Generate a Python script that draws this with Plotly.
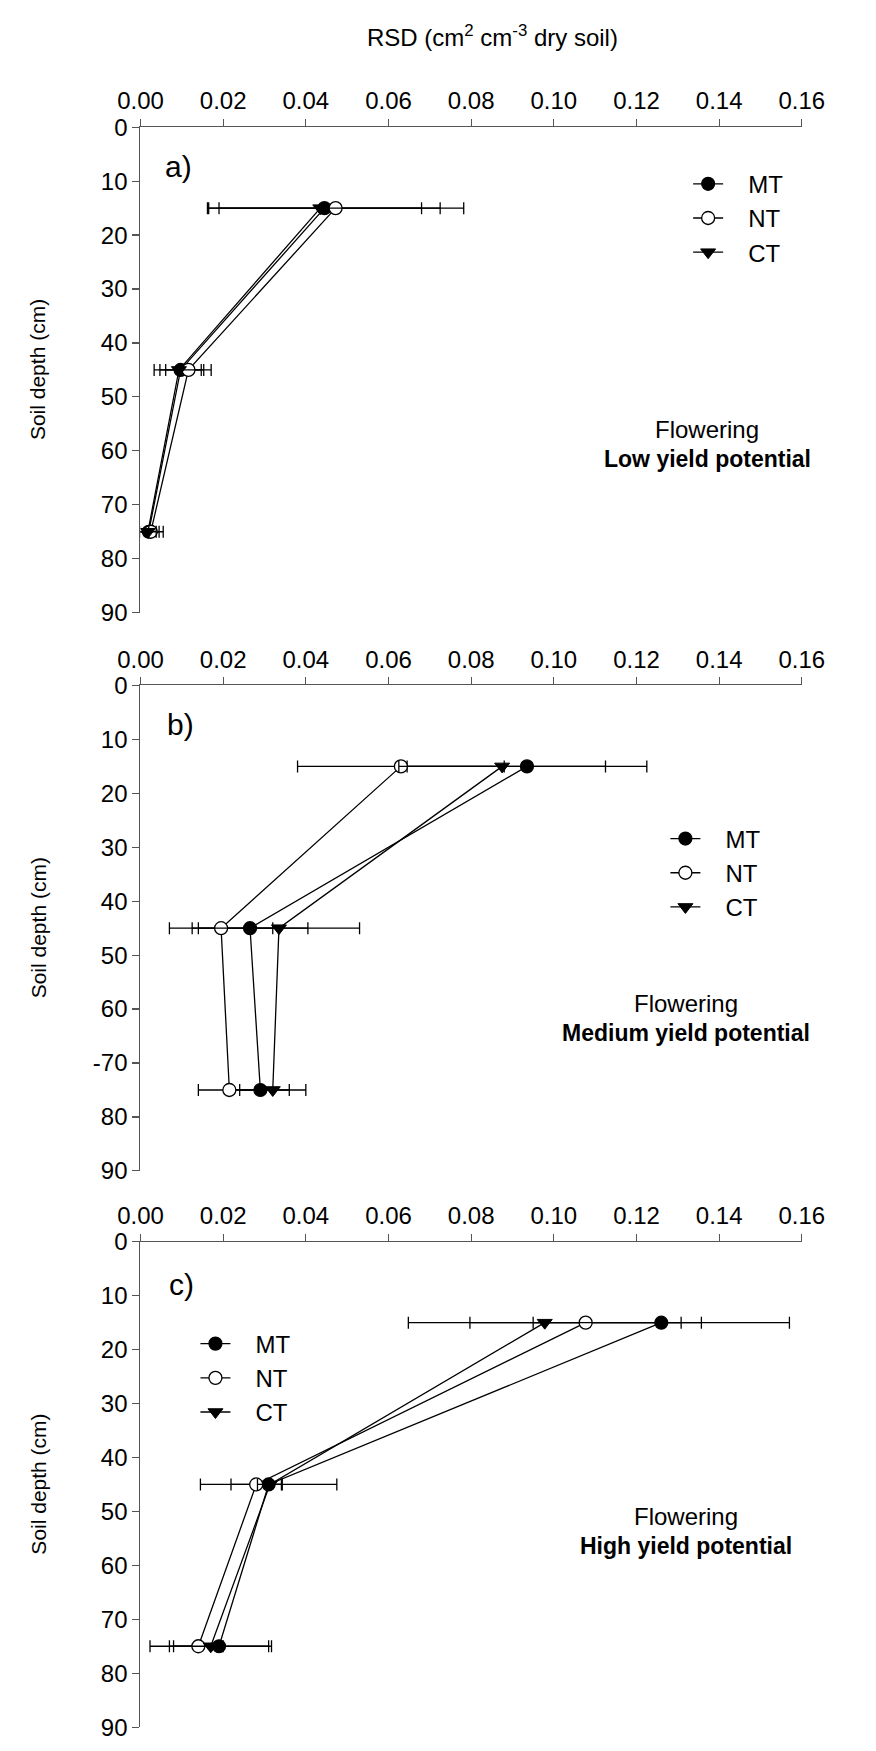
import plotly.graph_objects as go

# ---------------- data ----------------
depth = [15, 45, 75]
series_names = ["MT", "NT", "CT"]

# Panel a) Low yield potential
a_MT = [0.0445, 0.0097, 0.0020]
a_MT_err = [0.0280, 0.0050, 0.0025]
a_NT = [0.0472, 0.0116, 0.0025]
a_NT_err = [0.0310, 0.0055, 0.0030]
a_CT = [0.0435, 0.0093, 0.0018]
a_CT_err = [0.0245, 0.0060, 0.0020]

# Panel b) Medium yield potential
b_MT = [0.0935, 0.0265, 0.0290]
b_MT_err = [0.0290, 0.0140, 0.0070]
b_NT = [0.0630, 0.0195, 0.0215]
b_NT_err = [0.0250, 0.0125, 0.0075]
b_CT = [0.0875, 0.0335, 0.0320]
b_CT_err = [0.0250, 0.0195, 0.0080]

# Panel c) High yield potential
c_MT = [0.1260, 0.0310, 0.0190]
c_MT_err = [0.0310, 0.0165, 0.0120]
c_NT = [0.1077, 0.0280, 0.0140]
c_NT_err = [0.0280, 0.0061, 0.0060]
c_CT = [0.0978, 0.0313, 0.0170]
c_CT_err = [0.0330, 0.0030, 0.0147]

x_ticks = [0.00, 0.02, 0.04, 0.06, 0.08, 0.10, 0.12, 0.14, 0.16]
y_ticks = [0, 10, 20, 30, 40, 50, 60, 70, 80, 90]
y_ticktext_a = ["0", "10", "20", "30", "40", "50", "60", "70", "80", "90"]
y_ticktext_b = ["0", "10", "20", "30", "40", "50", "60", "-70", "80", "90"]
y_ticktext_c = ["0", "10", "20", "30", "40", "50", "60", "70", "80", "90"]

panel_letters = ["a)", "b)", "c)"]
panel_line1 = ["Flowering", "Flowering", "Flowering"]
panel_line2 = ["Low yield potential", "Medium yield potential", "High yield potential"]
x_title = "RSD (cm<sup>2</sup> cm<sup>-3</sup> dry soil)"
y_title = "Soil depth (cm)"

# ---------------- layout constants ----------------
W, H = 876, 1751
FONT = "Liberation Sans, Arial, Helvetica, sans-serif"
AX_COLOR = "#555555"

def px_x(p):
    return p / W

def px_y(p):
    return 1 - p / H

x_dom = [px_x(124), px_x(822)]
panel_px = [(115, 608), (682, 1175), (1247, 1740)]

styles = {
    "MT": dict(symbol="circle", color="black", line=dict(color="black", width=1.2), size=13),
    "NT": dict(symbol="circle", color="white", line=dict(color="black", width=1.3), size=13),
    "CT": dict(symbol="triangle-down", color="black", line=dict(color="black", width=1), size=13),
}

panels = [
    ([a_MT, a_NT, a_CT], [a_MT_err, a_NT_err, a_CT_err], y_ticktext_a),
    ([b_MT, b_NT, b_CT], [b_MT_err, b_NT_err, b_CT_err], y_ticktext_b),
    ([c_MT, c_NT, c_CT], [c_MT_err, c_NT_err, c_CT_err], y_ticktext_c),
]

legend_pos = [(702, 150), (678, 815), (182, 1328)]  # px of legend top-left
text_cx = [722, 700, 700]
text_depth = [(56.0, 61.5), (59.0, 64.5), (51.0, 56.5)]
letter_pos = [(148, 155), (150, 722), (152, 1290)]

fig = go.Figure()
layout = dict(
    width=W, height=H, autosize=False,
    margin=dict(l=0, r=0, t=0, b=0),
    paper_bgcolor="white", plot_bgcolor="white",
    font=dict(family=FONT, size=24, color="black"),
    showlegend=True,
)
annotations = []

for i, (vals, errs, yticktext) in enumerate(panels):
    n = "" if i == 0 else str(i + 1)
    xa, ya = "x" + n, "y" + n
    leg = "legend" + n
    for name, v, e in zip(series_names, vals, errs):
        st = styles[name]
        fig.add_trace(go.Scatter(
            x=v, y=depth, mode="lines+markers", name="&nbsp;&nbsp;&nbsp;" + name,
            xaxis=xa, yaxis=ya, legend=leg,
            line=dict(color="black", width=1.3),
            marker=dict(symbol=st["symbol"], color=st["color"], size=st["size"], line=st["line"]),
            error_x=dict(type="data", array=e, visible=True, color="black", thickness=1.3, width=6),
        ))
    top, bot = panel_px[i]
    layout["xaxis" + n] = dict(
        domain=x_dom, anchor=ya, side="top", range=[0, 0.16],
        tickvals=x_ticks, tickformat=".2f", ticks="outside", ticklen=7,
        tickcolor=AX_COLOR, tickwidth=1.2, showline=True, linecolor=AX_COLOR, linewidth=1.2,
        showgrid=False, zeroline=False, tickfont=dict(size=24, family=FONT), fixedrange=True,
    )
    layout["yaxis" + n] = dict(
        domain=[px_y(bot), px_y(top)], anchor=xa, range=[90, 0],
        tickvals=y_ticks, ticktext=yticktext, ticks="outside", ticklen=7,
        tickcolor=AX_COLOR, tickwidth=1.2, showline=True, linecolor=AX_COLOR, linewidth=1.2,
        showgrid=False, zeroline=False, tickfont=dict(size=24, family=FONT), fixedrange=True,
    )
    lx, ly = legend_pos[i]
    layout[leg] = dict(
        x=px_x(lx), y=px_y(ly), xanchor="left", yanchor="top",
        bgcolor="rgba(0,0,0,0)", font=dict(size=24, family=FONT),
        tracegroupgap=0, itemclick=False, itemdoubleclick=False,
    )
    # panel letter
    lpx, lpy = letter_pos[i]
    annotations.append(dict(text=panel_letters[i], x=px_x(lpx), y=px_y(lpy), xref="paper", yref="paper",
                            xanchor="left", yanchor="middle", showarrow=False,
                            font=dict(size=30, family=FONT)))
    d1, d2 = text_depth[i]
    annotations.append(dict(text=panel_line1[i], x=px_x(text_cx[i]), y=d1, xref="paper", yref=ya,
                            xanchor="center", yanchor="middle", showarrow=False,
                            font=dict(size=24, family=FONT)))
    annotations.append(dict(text="<b>" + panel_line2[i] + "</b>", x=px_x(text_cx[i]), y=d2, xref="paper", yref=ya,
                            xanchor="center", yanchor="middle", showarrow=False,
                            font=dict(size=23, family=FONT)))
    annotations.append(dict(text=y_title, x=px_x(16), y=px_y((top + bot) / 2), xref="paper", yref="paper",
                            xanchor="center", yanchor="middle", textangle=-90, showarrow=False,
                            font=dict(size=21, family=FONT)))

annotations.append(dict(text=x_title, x=px_x(495), y=px_y(22), xref="paper", yref="paper",
                        xanchor="center", yanchor="middle", showarrow=False,
                        font=dict(size=24, family=FONT)))
layout["annotations"] = annotations
fig.update_layout(**layout)
fig.write_html("out.html",
               config={"displayModeBar": False, "staticPlot": True},
               post_script="document.body.style.margin='0';document.body.style.overflow='hidden';")
